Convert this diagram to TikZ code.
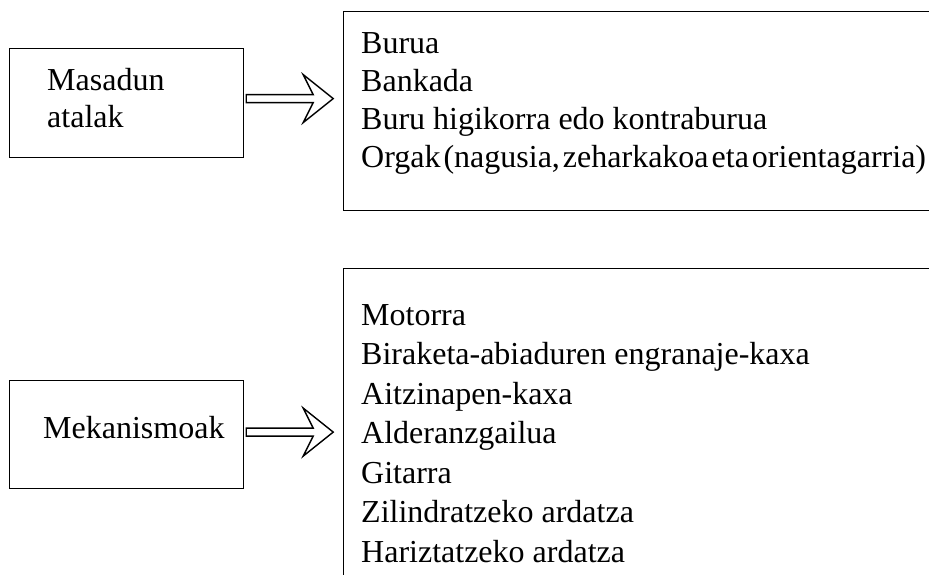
\documentclass[tikz,border=0pt]{standalone}
\usepackage{fontspec}
\setmainfont{Liberation Serif}
\usetikzlibrary{calc}

\tikzset{
  frame/.style={draw=black, line width=1.2pt, inner sep=0pt, anchor=north west},
  label text/.style={anchor=base west, inner sep=0pt, font=\fontsize{32}{38}\selectfont},
  hollow arrow/.style={draw=black, line width=1.4pt, fill=white, line join=miter},
}

\begin{document}
\begin{tikzpicture}[x=1pt, y=-1pt]
  \useasboundingbox (0,0) rectangle (929,574);
  \clip (0,0) rectangle (929,574);

  % left-hand boxes
  \node[frame, minimum width=234pt, minimum height=109pt] (mas) at (9,48) {};
  \node[frame, minimum width=234pt, minimum height=108pt] (mek) at (9,380) {};

  % right-hand lists (open on the right, the lower one also at the bottom)
  \node[frame, minimum width=640pt, minimum height=199pt] (list1) at (343,11) {};
  \node[frame, minimum width=640pt, minimum height=400pt] (list2) at (343,268) {};

  % box captions
  \node[label text] (masA) at (47,90) {Masadun};
  \node[label text] (masB) at (47,127) {atalak};
  \node[label text] (mekA) at (43,438) {Mekanismoak};

  % upper list
  \node[label text] (u1) at (361,53)  {Burua};
  \node[label text] (u2) at (361,91)  {Bankada};
  \node[label text] (u3) at (361,129) {Buru higikorra edo kontraburua};
  \node[label text] (u4) at (361,167)
    {\spaceskip=3pt plus 1pt\relax Orgak (nagusia, zeharkakoa eta orientagarria)};

  % lower list
  \foreach \t [count=\i from 0] in {Motorra,
      Biraketa-abiaduren engranaje-kaxa,
      Aitzinapen-kaxa,
      Alderanzgailua,
      Gitarra,
      Zilindratzeko ardatza,
      Hariztatzeko ardatza}
    \node[label text] (l\i) at (361,{325+39.5*\i}) {\t};

  % hollow block arrows between box and list
  \coordinate (a1) at ($(mas.east)+(2,-8.5)$);
  \draw[hollow arrow] (a1) -- ++(67,0) -- ++(-10,-20) -- ++(30,24)
    -- ++(-30,24) -- ++(10,-20) -- ++(-67,0) -- cycle;

  \coordinate (a2) at ($(mek.east)+(2,-6.5)$);
  \draw[hollow arrow] (a2) -- ++(67,0) -- ++(-10,-20) -- ++(30,24)
    -- ++(-30,24) -- ++(10,-20) -- ++(-67,0) -- cycle;
\end{tikzpicture}
\end{document}
